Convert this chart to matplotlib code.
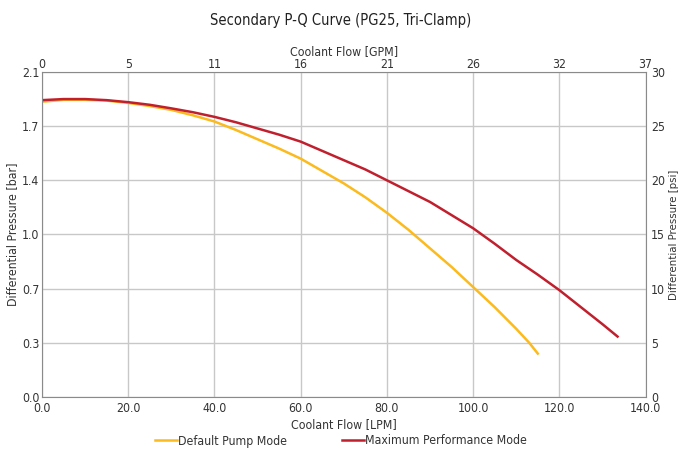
import matplotlib
matplotlib.use('Agg')
import matplotlib.pyplot as plt

plt.rcParams['font.family'] = ['DejaVu Sans']
plt.rcParams['font.stretch'] = 'condensed'

# Default Pump Mode
lpm_def = [0, 5, 10, 15, 20, 25, 30, 35, 40, 45, 50, 55, 60, 65, 70, 75, 80, 85, 90, 95,
           100, 105, 110, 113, 115]
bar_def = [1.908, 1.92, 1.92, 1.915, 1.90, 1.88, 1.855, 1.82, 1.78, 1.725, 1.665, 1.605,
           1.54, 1.46, 1.38, 1.29, 1.19, 1.08, 0.96, 0.84, 0.71, 0.58, 0.44, 0.35, 0.28]
# Maximum Performance Mode
lpm_max = [0, 5, 10, 15, 20, 25, 30, 35, 40, 45, 50, 55, 60, 65, 70, 75, 80, 85, 90, 95,
           100, 105, 110, 115, 120, 125, 130, 133.5]
bar_max = [1.918, 1.925, 1.925, 1.918, 1.905, 1.888, 1.865, 1.84, 1.81, 1.775, 1.735, 1.695,
           1.65, 1.59, 1.53, 1.47, 1.40, 1.33, 1.26, 1.175, 1.09, 0.99, 0.885, 0.79, 0.69,
           0.58, 0.47, 0.39]

lpm_ticks = [0, 20, 40, 60, 80, 100, 120, 140]
gpm_labels = ['0', '5', '11', '16', '21', '26', '32', '37']
bar_ticks = [0, 0.35, 0.7, 1.05, 1.4, 1.75, 2.1]
bar_labels = ['0.0', '0.3', '0.7', '1.0', '1.4', '1.7', '2.1']
psi_ticks = [0, 5, 10, 15, 20, 25, 30]

yellow = '#FBBA1E'
red = '#C0202E'
grey = '#333333'
fs = 8.8

fig = plt.figure(figsize=(6.82, 4.5), dpi=100)
ax = fig.add_axes([0.0616, 0.118, 0.885, 0.722])

ax.plot(lpm_def, bar_def, color=yellow, lw=1.8, label='Default Pump Mode')
ax.plot(lpm_max, bar_max, color=red, lw=1.8, label='Maximum Performance Mode')

ax.set_xlim(0, 140)
ax.set_ylim(0, 2.1)
ax.set_xticks(lpm_ticks)
ax.set_xticklabels([f'{v:.1f}' for v in lpm_ticks])
ax.set_yticks(bar_ticks)
ax.set_yticklabels(bar_labels)
ax.grid(True, color='#c8c8c8', lw=1)
ax.set_axisbelow(True)
ax.tick_params(axis='x', length=0, labelsize=fs, colors=grey, pad=4)
ax.tick_params(axis='y', length=0, labelsize=fs, colors=grey, pad=2)
for s in ax.spines.values():
    s.set_color('#8a8a8a')
ax.set_xlabel('Coolant Flow [LPM]', fontsize=fs, color=grey, labelpad=2)
ax.set_ylabel('Differential Pressure [bar]', fontsize=fs, color=grey, labelpad=2)

axr = ax.twinx()
axr.set_ylim(0, 30)
axr.set_yticks(psi_ticks)
axr.tick_params(length=0, labelsize=fs, colors=grey, pad=4)
axr.set_ylabel('Differential Pressure [psi]', fontsize=8.2, color=grey, labelpad=3)
for s in axr.spines.values():
    s.set_visible(False)

axt = ax.twiny()
axt.set_xlim(0, 140)
axt.set_xticks(lpm_ticks)
axt.set_xticklabels(gpm_labels)
axt.tick_params(length=0, labelsize=fs, colors=grey, pad=1)
axt.set_xlabel('Coolant Flow [GPM]', fontsize=fs, color=grey, labelpad=2)
for s in axt.spines.values():
    s.set_visible(False)

fig.suptitle('Secondary P-Q Curve (PG25, Tri-Clamp)', y=0.972, fontsize=10.5, color='#222222')

fig.legend(loc='center', bbox_to_anchor=(0.5, 0.02), ncol=2, frameon=False,
           fontsize=fs, handlelength=1.8, handletextpad=0.05, columnspacing=4.5,
           labelcolor=grey)

fig.savefig('out.png', dpi=100)
